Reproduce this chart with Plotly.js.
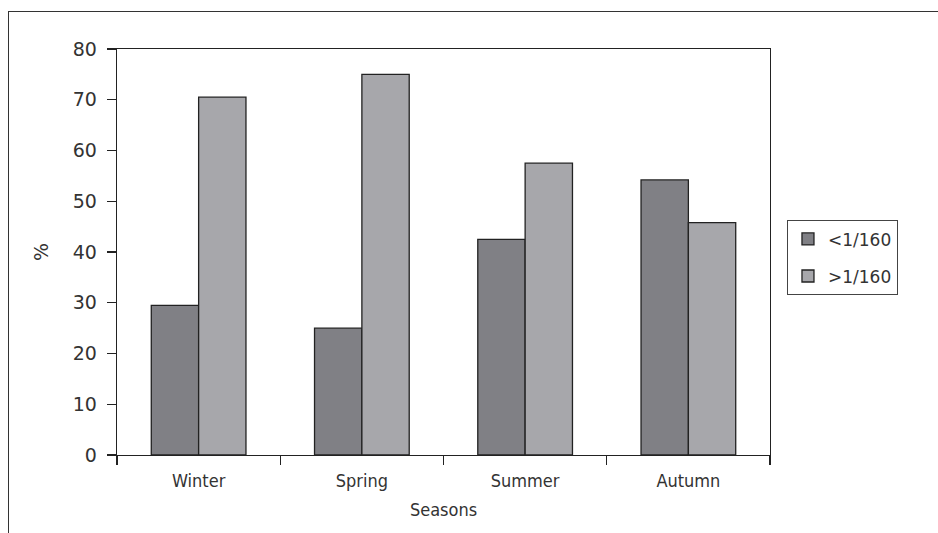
<!DOCTYPE html>
<html>
<head>
<meta charset="utf-8">
<script src="https://cdn.plot.ly/plotly-3.0.1.min.js"></script>
<style>
  html, body { margin: 0; padding: 0; background: #fff; }
  #wrap { position: relative; width: 938px; height: 533px; overflow: hidden; }
  #frame { position: absolute; left: 8px; top: 11px; width: 940px; height: 540px; border: 1.5px solid #333; box-sizing: border-box; pointer-events: none; }
  #chart { position: absolute; left: 0; top: 0; width: 938px; height: 533px; }
</style>
</head>
<body>
<div id="wrap">
  <div id="chart"></div>
  <div id="frame"></div>
</div>
<script>
const seasons = ["Winter", "Spring", "Summer", "Autumn"];
const seriesNames = ["<1/160", ">1/160"];
const below = [29.5, 25, 42.5, 54.2];
const above = [70.5, 75, 57.5, 45.8];
const yTicks = [0, 10, 20, 30, 40, 50, 60, 70, 80];

const font = "DejaVu Sans, Liberation Sans, sans-serif";
const condFont = "DejaVu Sans Condensed, DejaVu Sans, sans-serif";
const lineCol = "#222";

const traces = [
  { type: "bar", name: seriesNames[0], x: seasons, y: below, legendgroup: "a",
    marker: { color: "#808085", line: { color: lineCol, width: 1.3 } } },
  { type: "bar", name: seriesNames[1], x: seasons, y: above, legendgroup: "b",
    marker: { color: "#a7a7ab", line: { color: lineCol, width: 1.3 } } }
];

const layout = {
  width: 938, height: 533,
  margin: { l: 117, r: 168, t: 49, b: 78, pad: 0 },
  paper_bgcolor: "rgba(0,0,0,0)", plot_bgcolor: "#fff",
  barmode: "group", bargap: 0.42, bargroupgap: 0,
  font: { family: font, color: "#333", size: 15 },
  showlegend: true,
  legend: {
    x: 1.026, xanchor: "left", y: 0.578, yanchor: "top",
    bordercolor: "#444", borderwidth: 1, bgcolor: "#fff",
    font: { size: 17, color: "#333", family: font },
    traceorder: "grouped", tracegroupgap: 12
  },
  xaxis: {
    type: "category", tickson: "boundaries",
    ticks: "outside", ticklen: 9, tickcolor: lineCol, tickwidth: 1.3,
    ticklabelstandoff: 9,
    showline: true, linecolor: lineCol, linewidth: 1.3, mirror: true,
    showgrid: false, zeroline: false,
    tickfont: { size: 18, color: "#333", family: condFont },
    title: { text: "Seasons", font: { size: 18, color: "#333", family: condFont }, standoff: 13 }
  },
  yaxis: {
    range: [0, 80], tickvals: yTicks, ticktext: yTicks.map(String),
    ticks: "outside", ticklen: 9, tickcolor: lineCol, tickwidth: 1.3,
    ticklabelstandoff: 6,
    showline: true, linecolor: lineCol, linewidth: 1.3, mirror: true,
    showgrid: false, zeroline: false,
    tickfont: { size: 19, color: "#333" },
    title: { text: "%", font: { size: 19, color: "#333" }, standoff: 19 }
  }
};

Plotly.newPlot("chart", traces, layout, { displayModeBar: false, staticPlot: true });
</script>
</body>
</html>
